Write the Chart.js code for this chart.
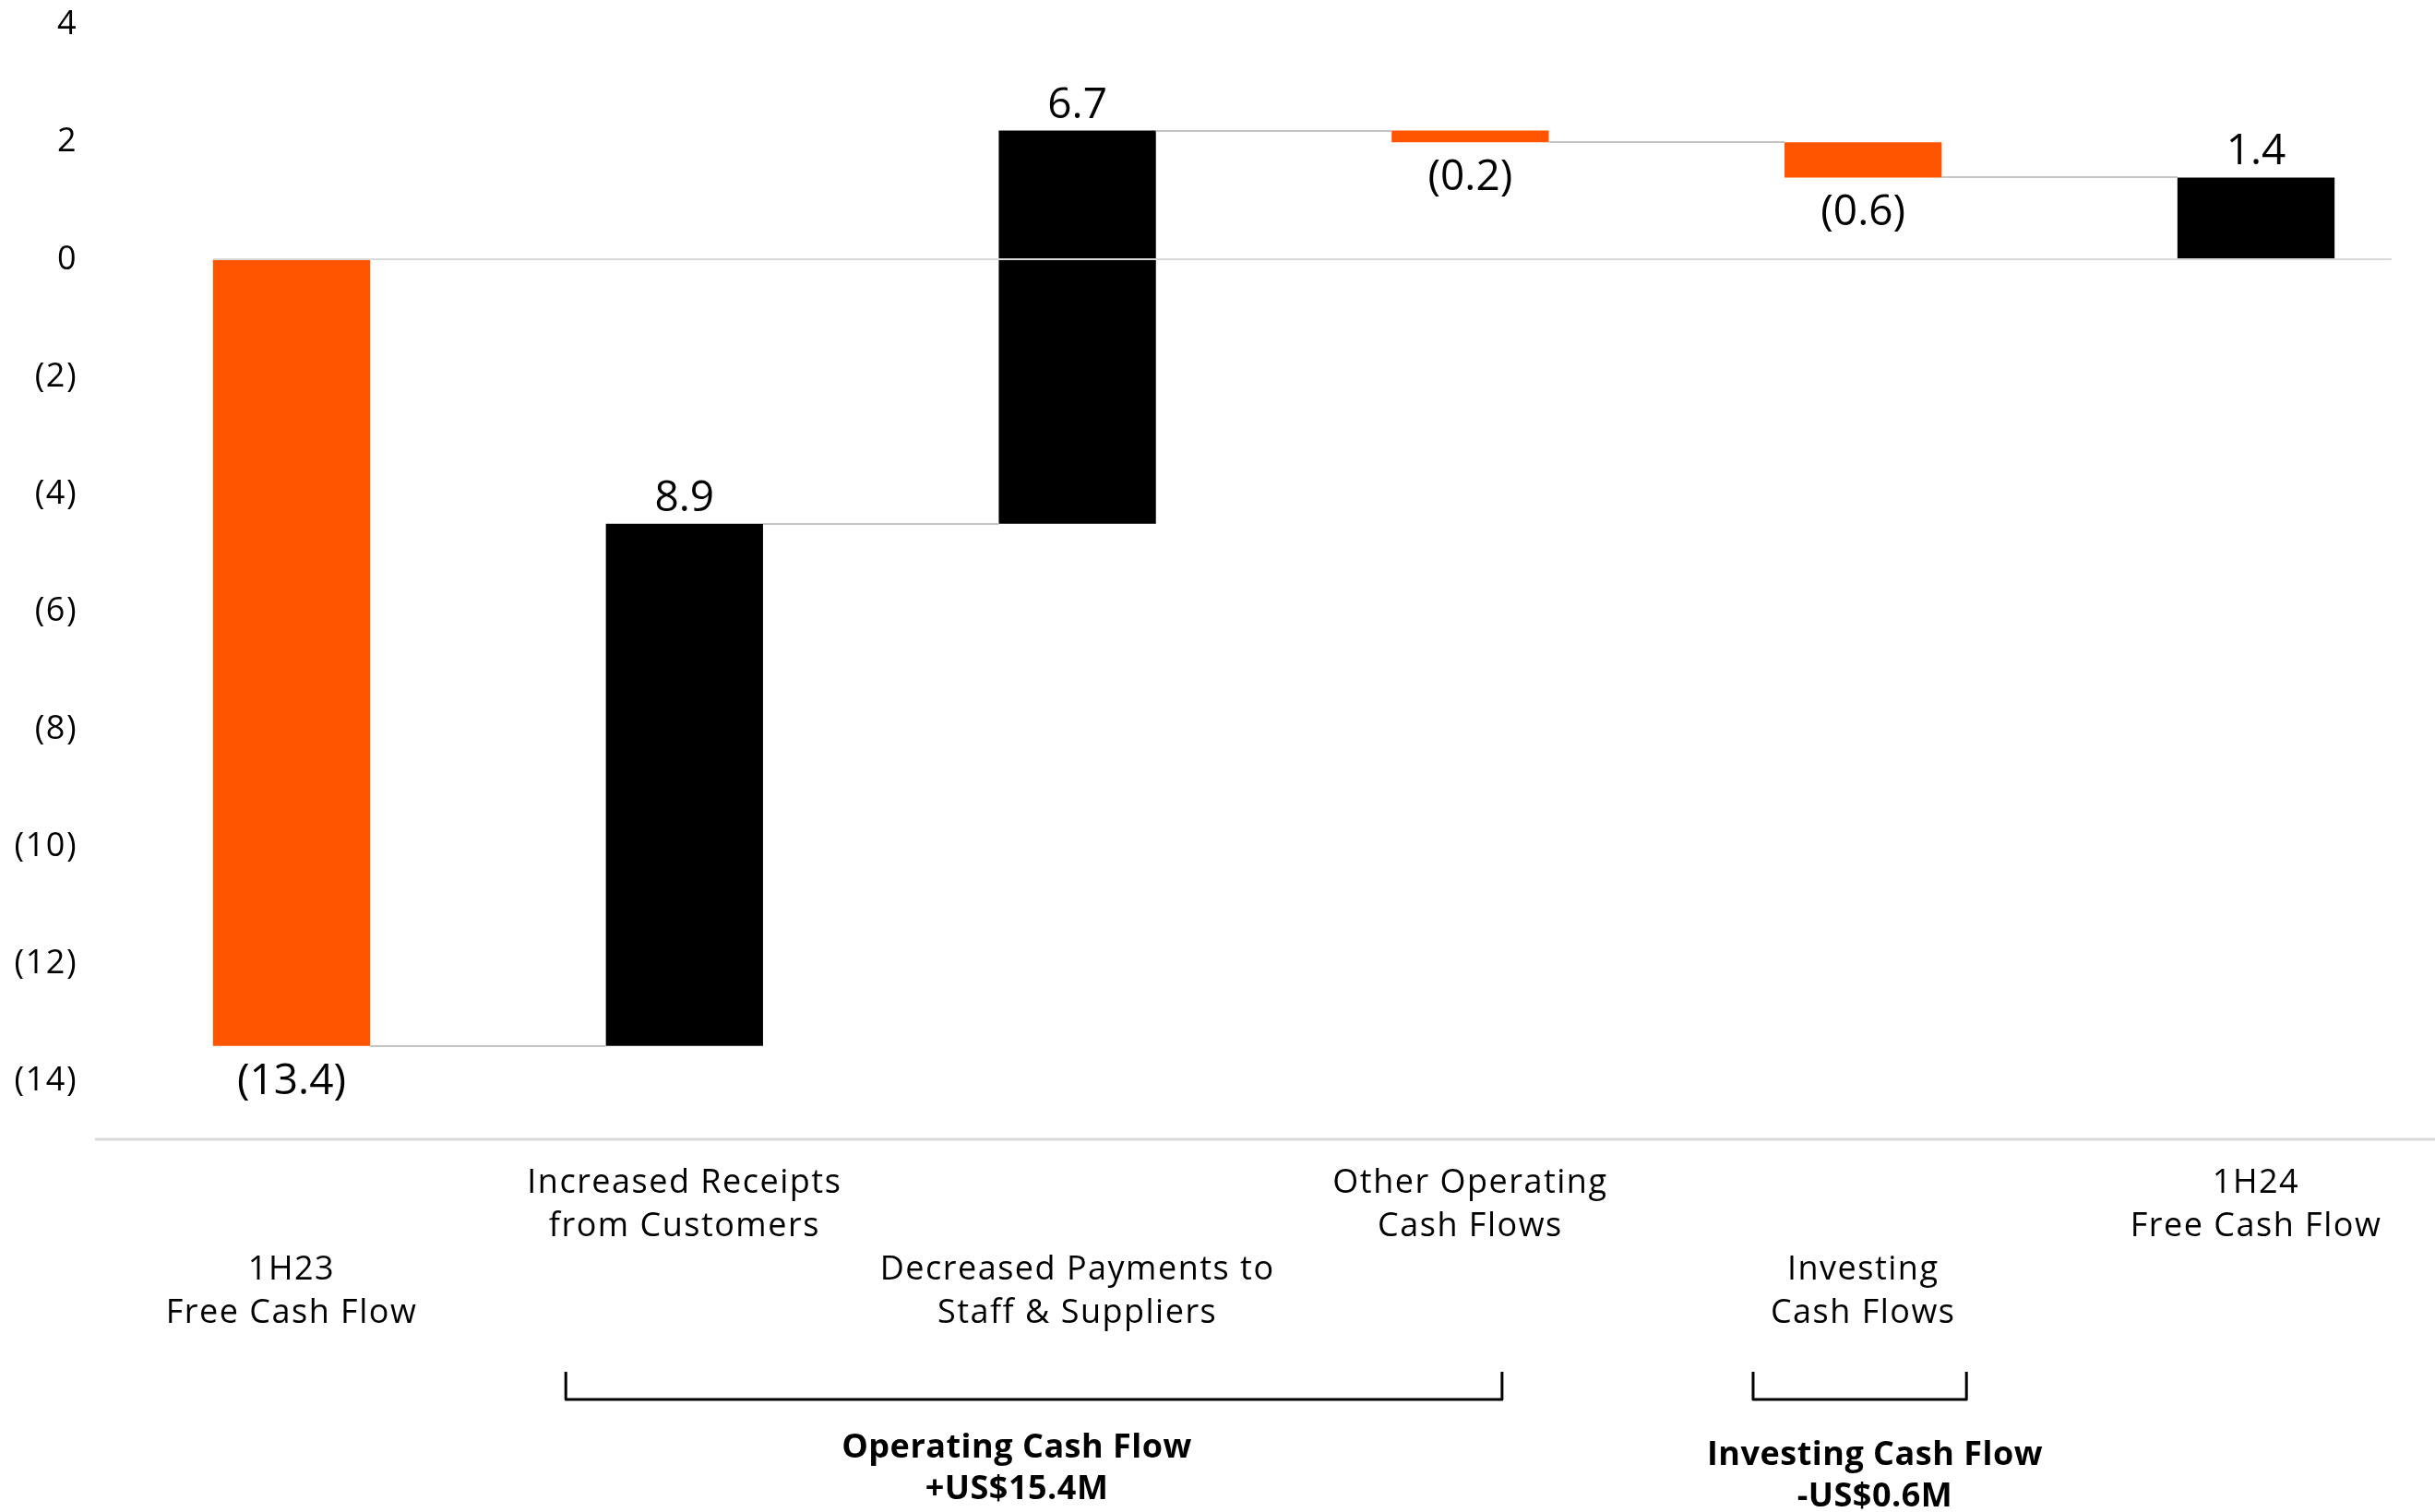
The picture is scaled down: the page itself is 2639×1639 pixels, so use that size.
<!DOCTYPE html>
<html>
<head>
<meta charset="utf-8">
<script src="https://cdn.jsdelivr.net/npm/chart.js@4.4.1/dist/chart.umd.min.js"></script>
<style>
  html, body { margin: 0; padding: 0; background: #ffffff; }
  canvas { display: block; }
</style>
</head>
<body>
<canvas id="bridge" width="2639" height="1639"></canvas>
<script>
// Free cash flow bridge, 1H23 -> 1H24 (US$M)
const categories = [
  ['1H23', 'Free Cash Flow'],
  ['Increased Receipts', 'from Customers'],
  ['Decreased Payments to', 'Staff & Suppliers'],
  ['Other Operating', 'Cash Flows'],
  ['Investing', 'Cash Flows'],
  ['1H24', 'Free Cash Flow']
];
const changes = [-13.4, 8.9, 6.7, -0.2, -0.6, 1.4];
const isTotal = [true, false, false, false, false, true];
const yTickValues = [4, 2, 0, -2, -4, -6, -8, -10, -12, -14];

// Summary groups shown under the axis
const groupNames = ['Operating Cash Flow', 'Investing Cash Flow'];
const groupMembers = [[1, 2, 3], [4]];

// Colours
const ORANGE = '#ff5500';
const BLACK = '#000000';

// Floating ranges [start, end] for each bar
let running = 0;
const ranges = changes.map((v, i) => {
  if (isTotal[i]) { running = v; return [0, v]; }
  const start = running;
  running = Math.round((running + v) * 10) / 10;
  return [start, running];
});

const fmtTick = v => v < 0 ? '(' + Math.abs(v) + ')' : String(v);
const fmtValue = v => v < 0 ? '(' + Math.abs(v).toFixed(1) + ')' : v.toFixed(1);
const fmtGroup = v => (v < 0 ? '-' : '+') + 'US$' + Math.abs(v).toFixed(1) + 'M';
const groupTotals = groupMembers.map(m => Math.round(m.reduce((s, i) => s + changes[i], 0) * 10) / 10);

// Annotation layout (category-index units / px offsets below the plot)
const bracketSpans = [[0.698, 3.081], [3.72, 4.263]];
const captionCenters = [1.846, 4.03];
const captionBaselines = [[408, 453], [416, 461]];

const LABEL_FONT = '"Open Sans", "DejaVu Sans", sans-serif';

const overlay = {
  id: 'overlay',
  beforeDraw(chart) { chart.ctx.letterSpacing = '1.5px'; },
  beforeDatasetsDraw(chart) { chart.ctx.letterSpacing = '0px'; },
  afterDatasetsDraw(chart) {
    const { ctx, chartArea, scales: { x, y } } = chart;
    const bars = chart.getDatasetMeta(0).data;
    const W = chart.width;
    ctx.save();
    ctx.letterSpacing = '0px';

    // axis baseline under the plot
    ctx.strokeStyle = '#d9d9d9';
    ctx.lineWidth = 3;
    ctx.beginPath();
    const baseY = chartArea.bottom + 63;
    ctx.moveTo(x.getPixelForValue(-0.5), baseY);
    ctx.lineTo(W, baseY);
    ctx.stroke();

    // zero line, drawn over the bars
    const y0 = Math.round(y.getPixelForValue(0));
    ctx.strokeStyle = '#d9d9d9';
    ctx.lineWidth = 2;
    ctx.beginPath();
    ctx.moveTo(bars[0].x - bars[0].width / 2, y0);
    ctx.lineTo(x.getPixelForValue(5.345), y0);
    ctx.stroke();

    // connectors between consecutive bars
    ctx.strokeStyle = '#c4c4c4';
    ctx.lineWidth = 2;
    for (let i = 0; i < bars.length - 1; i++) {
      const ly = Math.round(y.getPixelForValue(ranges[i][1]));
      ctx.beginPath();
      ctx.moveTo(bars[i].x + bars[i].width / 2, ly);
      ctx.lineTo(bars[i + 1].x - bars[i + 1].width / 2, ly);
      ctx.stroke();
    }

    // value labels
    ctx.fillStyle = BLACK;
    ctx.font = '46px ' + LABEL_FONT;
    ctx.textAlign = 'center';
    ctx.textBaseline = 'alphabetic';
    bars.forEach((bar, i) => {
      const v = changes[i];
      const top = Math.min(bar.y, bar.base);
      const bottom = Math.max(bar.y, bar.base);
      const ty = v < 0 ? bottom + 52 : top - 14;
      ctx.fillText(fmtValue(v), bar.x, ty);
    });

    // group brackets
    ctx.strokeStyle = BLACK;
    ctx.lineWidth = 3;
    ctx.lineJoin = 'round';
    const bTop = chartArea.bottom + 315;
    const bBot = chartArea.bottom + 345;
    bracketSpans.forEach(([a, b]) => {
      const xa = x.getPixelForValue(a), xb = x.getPixelForValue(b);
      ctx.beginPath();
      ctx.moveTo(xa, bTop);
      ctx.lineTo(xa, bBot);
      ctx.lineTo(xb, bBot);
      ctx.lineTo(xb, bTop);
      ctx.stroke();
    });

    // group captions
    ctx.font = 'bold 36px ' + LABEL_FONT;
    ctx.letterSpacing = '0.5px';
    ctx.fillStyle = BLACK;
    groupNames.forEach((name, g) => {
      const cx = x.getPixelForValue(captionCenters[g]);
      ctx.fillText(name, cx, chartArea.bottom + captionBaselines[g][0]);
      ctx.fillText(fmtGroup(groupTotals[g]), cx, chartArea.bottom + captionBaselines[g][1]);
    });

    ctx.restore();
  }
};

new Chart(document.getElementById('bridge'), {
  type: 'bar',
  data: {
    labels: categories,
    datasets: [{
      data: ranges,
      backgroundColor: changes.map(v => v < 0 ? ORANGE : BLACK),
      borderWidth: 0,
      categoryPercentage: 1,
      barPercentage: 0.4,
      clip: false
    }]
  },
  options: {
    responsive: false,
    animation: false,
    layout: { padding: { top: 27, right: 194, bottom: 0, left: 0 } },
    plugins: { legend: { display: false }, tooltip: { enabled: false } },
    scales: {
      x: {
        offset: false,
        grid: { display: false, drawTicks: false },
        border: { display: false },
        ticks: {
          autoSkip: false,
          maxRotation: 0,
          minRotation: 0,
          padding: 87,
          color: BLACK,
          font: { family: LABEL_FONT, size: 36, lineHeight: 47 / 36 },
          callback: (val, i) => i % 2 === 0 ? ['', ''].concat(categories[i]) : categories[i]
        },
        afterFit: s => { s.height = 467; s.paddingLeft = 0; s.paddingRight = 0; }
      },
      y: {
        min: -14,
        max: 4,
        grid: { display: false, drawTicks: false },
        border: { display: false },
        afterBuildTicks: s => { s.ticks = yTickValues.map(v => ({ value: v })); },
        ticks: {
          padding: 232,
          color: BLACK,
          font: { family: LABEL_FONT, size: 36 },
          callback: v => fmtTick(v)
        },
        afterFit: s => { s.width = 316; s.paddingTop = 0; s.paddingBottom = 0; }
      }
    }
  },
  plugins: [overlay]
});
</script>
</body>
</html>
